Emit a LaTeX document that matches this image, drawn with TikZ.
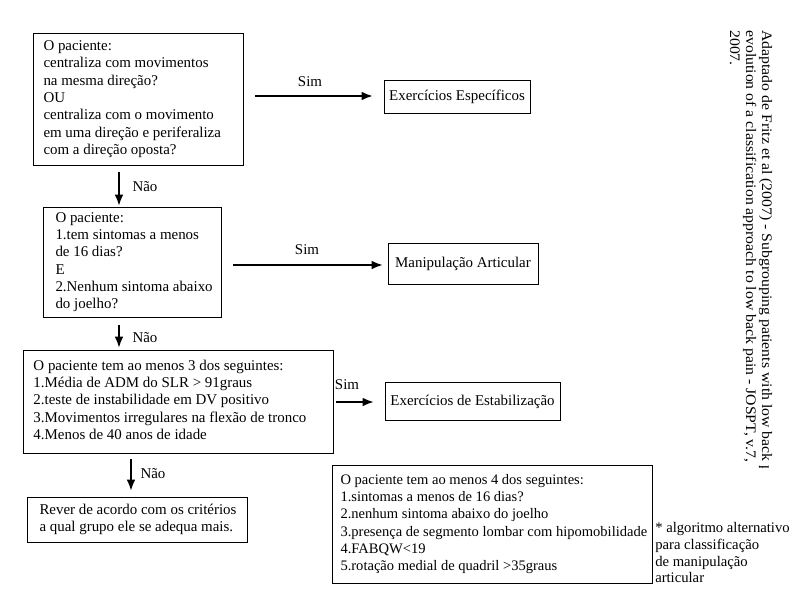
\documentclass[tikz,border=0pt]{standalone}
\usepackage{fontspec}
\setmainfont{Liberation Serif}
\usetikzlibrary{arrows.meta}
\newcommand{\bxtext}[2]{\makebox[#1][l]{\begin{tabular}{@{}l@{}}#2\end{tabular}}}
\begin{document}
\begin{tikzpicture}[x=0.75pt,y=-0.75pt,
  txt/.style={font=\fontsize{11.2}{13}\selectfont},
  box/.style={draw,line width=0.75pt,rectangle,txt,anchor=west,inner ysep=0pt},
  sbox/.style={draw,line width=0.75pt,rectangle,txt,inner sep=0pt},
  flow/.style={line width=1.5pt,-{Latex[length=8.5pt,width=6.5pt]}},
  lbl/.style={txt,inner sep=0pt}]
\useasboundingbox[fill=white] (0,0) rectangle (800,600);

% main boxes
\node[box,inner xsep=7.5pt,minimum height=99pt] (b1) at (33,99)
  {\bxtext{142.5pt}{O paciente:\\centraliza com movimentos\\na mesma direção?\\OU\\centraliza com o movimento\\em uma direção e periferaliza\\com a direção oposta?}};
\node[box,inner xsep=9pt,minimum height=82.5pt] (b2) at (43,262)
  {\bxtext{115.5pt}{O paciente:\\1.tem sintomas a menos\\de 16 dias?\\E\\2.Nenhum sintoma abaixo\\do joelho?}};
\node[box,inner xsep=7.5pt,minimum height=77.25pt] (b3) at (23,401.5)
  {\bxtext{217.5pt}{O paciente tem ao menos 3 dos seguintes:\\1.Média de ADM do SLR > 91graus\\2.teste de instabilidade em DV positivo\\3.Movimentos irregulares na flexão de tronco\\4.Menos de 40 anos de idade}};
\node[box,inner xsep=9pt,minimum height=33.75pt] (b4) at (27,519.5)
  {\bxtext{147pt}{Rever de acordo com os critérios\\a qual grupo ele se adequa mais.}};
\node[box,inner xsep=6pt,minimum height=88.5pt,font=\fontsize{10.9}{13}\selectfont] (b5) at (332,524)
  {\bxtext{228pt}{O paciente tem ao menos 4 dos seguintes:\\1.sintomas a menos de 16 dias?\\2.nenhum sintoma abaixo do joelho\\3.presença de segmento lombar com hipomobilidade\\4.FABQW<19\\5.rotação medial de quadril >35graus}};

% result boxes
\node[sbox,minimum width=109.5pt,minimum height=24.75pt] (r1) at (457,96.5) {Exercícios Específicos};
\node[sbox,minimum width=112.5pt,minimum height=30.75pt] (r2) at (463,263.5) {Manipulação Articular};
\node[sbox,minimum width=131.25pt,minimum height=28.5pt] (r3) at (472.5,401.5) {Exercícios de Estabilização};

% connector end points
\coordinate (s1a) at (255,96);  \coordinate (s1b) at (373,96);
\coordinate (s2a) at (233,265); \coordinate (s2b) at (383,265);
\coordinate (s3a) at (336,402); \coordinate (s3b) at (374,402);
\coordinate (n1a) at (119,172); \coordinate (n1b) at (119,206);
\coordinate (n2a) at (119,325); \coordinate (n2b) at (119,348);
\coordinate (n3a) at (131,459); \coordinate (n3b) at (131,491);

\draw[flow] (s1a) -- (s1b);
\draw[flow] (s2a) -- (s2b);
\draw[flow] (s3a) -- (s3b);
\draw[flow] (n1a) -- (n1b);
\draw[flow] (n2a) -- (n2b);
\draw[flow] (n3a) -- (n3b);

\node[lbl] (l1) at (310,82) {Sim};
\node[lbl] (l2) at (307,250) {Sim};
\node[lbl] (l3) at (347,385) {Sim};
\node[lbl] (l4) at (145,187) {Não};
\node[lbl] (l5) at (145,338) {Não};
\node[lbl] (l6) at (153,474) {Não};

% side note
\node[lbl,align=left,anchor=north west,font=\fontsize{11}{12.6}\selectfont] (note) at (655,522)
  {* algoritmo alternativo\\para classificação\\de manipulação\\articular};

% rotated reference
\begin{scope}
\clip (700,20) rectangle (800,467);
\node[lbl,rotate=-90,anchor=base west,font=\fontsize{10.9}{13}\selectfont] (ref1) at (762,30) {\scalebox{1.085}[1]{Adaptado de Fritz et al (2007) - Subgrouping patients with low back p}};
\end{scope}
\node[lbl,rotate=-90,anchor=base west,font=\fontsize{10.9}{13}\selectfont] (ref2) at (746,30) {\scalebox{1.085}[1]{evolution of a classification approach to low back pain - JOSPT, v.7,}};
\node[lbl,rotate=-90,anchor=base west,font=\fontsize{10.9}{13}\selectfont] (ref3) at (730,30) {\scalebox{1.085}[1]{2007.}};
\end{tikzpicture}
\end{document}
